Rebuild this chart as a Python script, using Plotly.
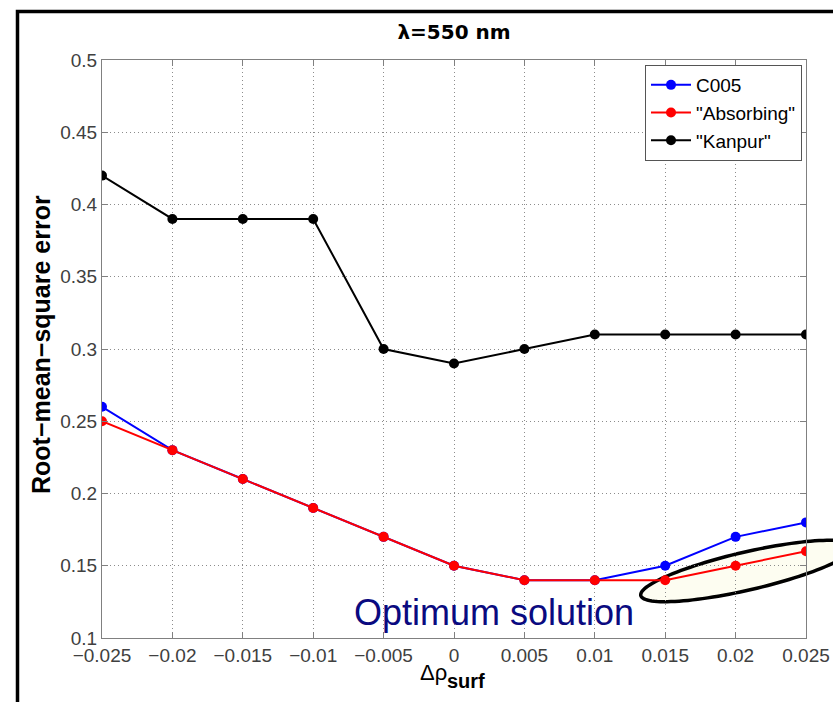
import numpy as np
import plotly.graph_objects as go

# ---------------- data ----------------
delta_rho = [-0.025, -0.02, -0.015, -0.01, -0.005, 0.0, 0.005, 0.01, 0.015, 0.02, 0.025]
c005      = [0.26, 0.23, 0.21, 0.19, 0.17, 0.15, 0.14, 0.14, 0.15, 0.17, 0.18]
absorbing = [0.25, 0.23, 0.21, 0.19, 0.17, 0.15, 0.14, 0.14, 0.14, 0.15, 0.16]
kanpur    = [0.42, 0.39, 0.39, 0.39, 0.30, 0.29, 0.30, 0.31, 0.31, 0.31, 0.31]

x_tickvals = [-0.025, -0.02, -0.015, -0.01, -0.005, 0, 0.005, 0.01, 0.015, 0.02, 0.025]
x_ticktext = ["\u22120.025", "\u22120.02", "\u22120.015", "\u22120.01", "\u22120.005", "0",
              "0.005", "0.01", "0.015", "0.02", "0.025"]
y_tickvals = [0.1, 0.15, 0.2, 0.25, 0.3, 0.35, 0.4, 0.45, 0.5]
y_ticktext = ["0.1", "0.15", "0.2", "0.25", "0.3", "0.35", "0.4", "0.45", "0.5"]

series_names = ["C005", "\"Absorbing\"", "\"Kanpur\""]
series_colors = ["#0000FF", "#FF0000", "#000000"]

# ---------------- layout geometry ----------------
W, H = 833, 702
L, R, T, B = 102, 27, 60, 64
pw, ph = W - L - R, H - T - B

def px2paper(x, y):
    return (x - L) / pw, (H - B - y) / ph

FONT = "Liberation Sans, Arial, Helvetica, sans-serif"

fig = go.Figure()
for name, vals, col in zip(series_names, [c005, absorbing, kanpur], series_colors):
    fig.add_trace(go.Scatter(
        x=delta_rho, y=vals, name=name, mode="lines+markers",
        line=dict(color=col, width=2),
        marker=dict(color=col, size=10, symbol="circle"),
    ))

# highlight ellipse (annotation, in pixel geometry -> paper)
cx, cy, a, b, th = 747, 571, 109, 19, np.deg2rad(13)
t = np.linspace(0, 2 * np.pi, 121)
ex = cx + a * np.cos(t) * np.cos(th) - b * np.sin(t) * np.sin(th)
ey = cy - (a * np.cos(t) * np.sin(th) + b * np.sin(t) * np.cos(th))
pts = [px2paper(x, y) for x, y in zip(ex, ey)]
path = "M " + " L ".join(f"{p[0]:.5f},{p[1]:.5f}" for p in pts) + " Z"
fig.add_shape(type="path", path=path, xref="paper", yref="paper",
              line=dict(color="black", width=3.5), fillcolor="rgb(253,253,241)",
              layer="below")

# outer frame
fx0, fy1 = px2paper(17.5, 11.5)
fx1, fy0 = px2paper(900, 800)
fig.add_shape(type="rect", xref="paper", yref="paper", x0=fx0, x1=fx1, y0=fy0, y1=fy1,
              line=dict(color="black", width=3.5), fillcolor="rgba(0,0,0,0)", layer="above")

axis_common = dict(
    showline=True, linecolor="#808080", linewidth=1, mirror="ticks",
    ticks="inside", ticklen=6, tickcolor="#808080",
    showgrid=True, gridcolor="#8c8c8c", gridwidth=1, griddash="1px,3px",
    zeroline=False, automargin=False,
    tickfont=dict(family=FONT, size=19, color="#404040"),
)

fig.update_xaxes(range=[-0.025, 0.025], tickvals=x_tickvals, ticktext=x_ticktext, **axis_common)
fig.update_yaxes(range=[0.1, 0.5], tickvals=y_tickvals, ticktext=y_ticktext, **axis_common)

fig.update_layout(
    width=W, height=H, autosize=False,
    margin=dict(l=L, r=R, t=T, b=B, pad=0, autoexpand=False),
    paper_bgcolor="white", plot_bgcolor="rgba(0,0,0,0)",
    title=dict(text="<b>\u03bb=550 nm</b>", x=454 / W, xanchor="center",
               y=1 - 32 / H, yanchor="middle", automargin=False,
               font=dict(family="DejaVu Sans, sans-serif", size=20, color="black")),
    legend=dict(x=px2paper(802, 0)[0], y=px2paper(0, 65)[1], xanchor="right", yanchor="top",
                bgcolor="white", bordercolor="#555555", borderwidth=1, itemwidth=40,
                font=dict(family=FONT, size=19, color="black"), tracegroupgap=0),
    showlegend=True,
)

# axis titles and text annotation
ylx, yly = px2paper(41, 345)
fig.add_annotation(x=ylx, y=yly, xref="paper", yref="paper", text="<b>Root\u2212mean\u2212square error</b>",
                   textangle=-90, showarrow=False, xanchor="center", yanchor="middle",
                   font=dict(family=FONT, size=25, color="black"))
dx, dy = px2paper(433, 672)
fig.add_annotation(x=dx, y=dy, xref="paper", yref="paper", text="\u0394\u03c1",
                   showarrow=False, xanchor="center", yanchor="middle",
                   font=dict(family=FONT, size=22, color="black"))
sx, sy = px2paper(445, 681)
fig.add_annotation(x=sx, y=sy, xref="paper", yref="paper", text="<b>surf</b>",
                   showarrow=False, xanchor="left", yanchor="middle",
                   font=dict(family=FONT, size=20, color="black"))
ox, oy = px2paper(494, 612)
fig.add_annotation(x=ox, y=oy, xref="paper", yref="paper", text="Optimum solution",
                   showarrow=False, xanchor="center", yanchor="middle",
                   font=dict(family=FONT, size=36, color="#0a0a80"))

fig.write_html("out.html")
